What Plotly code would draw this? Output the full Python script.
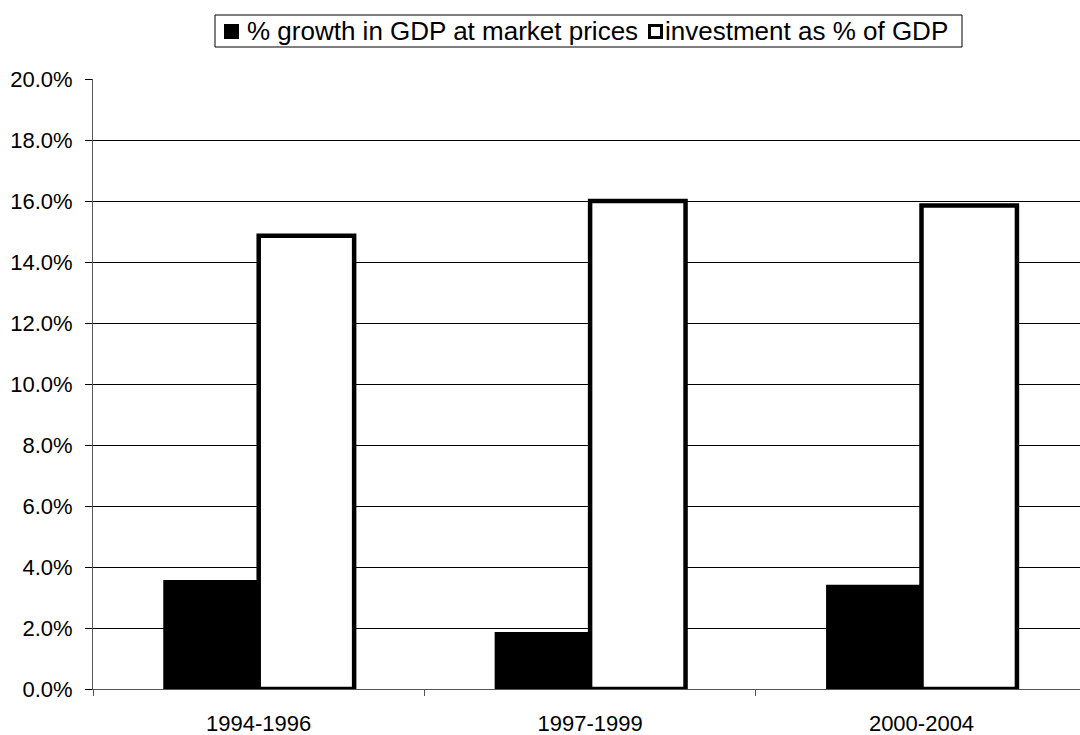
import plotly.graph_objects as go

# Period averages
periods = ["1994-1996", "1997-1999", "2000-2004"]
gdp_growth = [0.0357, 0.0187, 0.0342]
investment_share = [0.1486, 0.1600, 0.1585]

series_names = ["% growth in GDP at market prices", "investment as % of GDP"]
y_ticks = [0.0, 0.02, 0.04, 0.06, 0.08, 0.10, 0.12, 0.14, 0.16, 0.18, 0.20]

W, H = 1080, 735
M_L, M_R, M_T, M_B = 93, 0, 79, 46
PW, PH = W - M_L - M_R, H - M_T - M_B

FONT = "Liberation Sans, Arial, sans-serif"


def px(x):
    return (x - M_L) / PW


def py(y):
    return (H - M_B - y) / PH


fig = go.Figure()
fig.add_trace(go.Bar(
    x=periods, y=gdp_growth, name=series_names[0],
    marker=dict(color="#000000", line=dict(width=0)),
    showlegend=False,
))
fig.add_trace(go.Bar(
    x=periods, y=investment_share, name=series_names[1],
    marker=dict(color="#ffffff", line=dict(color="#000000", width=4.5)),
    showlegend=False,
))

# category width in pixels, so the right edge of the axis is cut at the page edge
cat_px = 331.4
x_hi = -0.5 + PW / cat_px

fig.update_layout(
    width=W, height=H,
    margin=dict(l=M_L, r=M_R, t=M_T, b=M_B),
    paper_bgcolor="#ffffff", plot_bgcolor="#ffffff",
    barmode="group", bargap=0.424, bargroupgap=0,
    font=dict(family=FONT, size=22, color="#000000"),
    xaxis=dict(
        type="category", range=[-0.5, x_hi],
        showgrid=False, showline=True, linecolor="#555555", linewidth=1,
        ticks="outside", tickson="boundaries", ticklen=6, tickcolor="#555555",
        tickfont=dict(family=FONT, size=22, color="#000000"),
        ticklabelstandoff=15,
    ),
    yaxis=dict(
        range=[0, 0.2], tickvals=y_ticks, tickformat=".1%",
        showgrid=True, gridcolor="#000000", gridwidth=1,
        zeroline=False, showline=True, linecolor="#555555", linewidth=1,
        ticks="outside", ticklen=7, tickcolor="#000000",
        tickfont=dict(family=FONT, size=22, color="#000000"),
        ticklabelstandoff=8,
    ),
)

# legend box drawn above the plot
shapes = [
    dict(type="rect", xref="paper", yref="paper",
         x0=px(215), x1=px(962), y0=py(47), y1=py(15),
         line=dict(color="#000000", width=1), fillcolor="#ffffff"),
    dict(type="rect", xref="paper", yref="paper",
         x0=px(224), x1=px(239), y0=py(39), y1=py(24),
         line=dict(width=0), fillcolor="#000000"),
    dict(type="rect", xref="paper", yref="paper",
         x0=px(649.5), x1=px(661.5), y0=py(37.5), y1=py(25.5),
         line=dict(color="#000000", width=3), fillcolor="#ffffff"),
]
annotations = [
    dict(xref="paper", yref="paper", x=px(245), y=py(31), xanchor="left", yanchor="middle",
         text=series_names[0], showarrow=False, font=dict(family=FONT, size=26, color="#000000")),
    dict(xref="paper", yref="paper", x=px(663), y=py(31), xanchor="left", yanchor="middle",
         text=series_names[1], showarrow=False, font=dict(family=FONT, size=26, color="#000000")),
]
fig.update_layout(shapes=shapes, annotations=annotations)

fig.write_html("out.html")
